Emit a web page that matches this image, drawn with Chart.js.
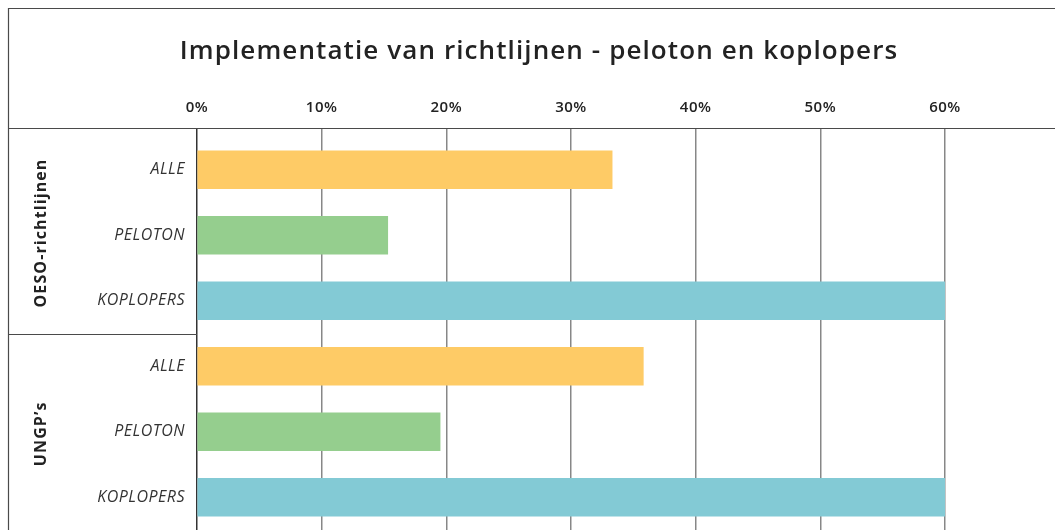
<!DOCTYPE html>
<html>
<head>
<meta charset="utf-8">
<script src="https://cdn.jsdelivr.net/npm/chart.js@4.4.1/dist/chart.umd.min.js"></script>
<style>
  html, body { margin: 0; padding: 0; background: #fff; }
  #wrap { width: 1055px; height: 530px; }
</style>
</head>
<body>
<div id="wrap"><canvas id="chart" width="1055" height="530"></canvas></div>
<script>
const title = "Implementatie van richtlijnen - peloton en koplopers";
const categories = ["ALLE", "PELOTON", "KOPLOPERS", "ALLE", "PELOTON", "KOPLOPERS"];
const groups = ["OESO-richtlijnen", "UNGP\u2019s"];
const groupSizes = [3, 3];
const values = [33.3, 15.3, 60, 35.8, 19.5, 60];
const xTicks = [0, 10, 20, 30, 40, 50, 60];

const barColors = ["#fecb66", "#95ce8e", "#83cad5", "#fecb66", "#95ce8e", "#83cad5"];
const lineColor = "#4a4a4a";
const fontFamily = "'Open Sans', 'Noto Sans', sans-serif";

const frame = {
  id: "frame",
  beforeDraw(chart) {
    // wider tracking for the axis labels, like the original typeface
    chart.ctx.letterSpacing = "0.5px";
  },
  afterDraw(chart) {
    const ctx = chart.ctx;
    const y = chart.scales.y;
    const area = chart.chartArea;
    const headerY = 128.5;

    ctx.save();
    ctx.strokeStyle = lineColor;
    ctx.lineWidth = 1.2;

    // outer frame: top and left
    ctx.beginPath();
    ctx.moveTo(8.5, chart.height);
    ctx.lineTo(8.5, 8.5);
    ctx.lineTo(chart.width, 8.5);
    ctx.stroke();

    // header rule
    ctx.beginPath();
    ctx.moveTo(8.5, headerY);
    ctx.lineTo(chart.width, headerY);
    ctx.stroke();

    // title
    ctx.fillStyle = "#222";
    ctx.font = "600 26px " + fontFamily;
    ctx.textAlign = "center";
    ctx.textBaseline = "middle";
    ctx.letterSpacing = "1.1px";
    ctx.fillText(title, 539, 52);

    // group labels and separators
    let start = 0;
    groups.forEach((name, i) => {
      const end = start + groupSizes[i] - 1;
      const top = i === 0 ? headerY : (y.getPixelForValue(start - 1) + y.getPixelForValue(start)) / 2;
      const bottom = i === groups.length - 1 ? chart.height : (y.getPixelForValue(end) + y.getPixelForValue(end + 1)) / 2;

      if (i < groups.length - 1) {
        ctx.beginPath();
        ctx.moveTo(8.5, Math.round(bottom) + 0.5);
        ctx.lineTo(area.left, Math.round(bottom) + 0.5);
        ctx.stroke();
      }

      ctx.save();
      ctx.translate(41, (top + bottom) / 2 + 2);
      ctx.rotate(-Math.PI / 2);
      ctx.font = "bold 16px " + fontFamily;
      ctx.fillStyle = "#222";
      ctx.textAlign = "center";
      ctx.textBaseline = "middle";
      ctx.letterSpacing = "1.1px";
      ctx.fillText(name, 0, 0);
      ctx.restore();

      start = end + 1;
    });

    ctx.restore();
  },
};

new Chart(document.getElementById("chart"), {
  type: "bar",
  data: {
    labels: categories,
    datasets: [
      {
        data: values,
        backgroundColor: barColors,
        borderWidth: 0,
        barThickness: 38,
      },
    ],
  },
  options: {
    indexAxis: "y",
    responsive: false,
    animation: false,
    layout: {
      padding: { left: 8, right: 110, top: 0, bottom: 0 },
    },
    plugins: {
      legend: { display: false },
      tooltip: { enabled: false },
    },
    scales: {
      x: {
        position: "top",
        min: 0,
        max: 60,
        z: 1,
        afterBuildTicks(scale) {
          scale.ticks = xTicks.map((v) => ({ value: v }));
        },
        afterFit(scale) {
          scale.height = 137;
        },
        ticks: {
          padding: 11,
          color: "#222",
          font: { family: fontFamily, size: 15, weight: "600" },
          callback: (v) => v + "%",
        },
        border: { display: false },
        grid: {
          drawTicks: true,
          tickLength: 9,
          lineWidth: 1.5,
          color: (ctx) => (ctx.tick && ctx.tick.value === 0 ? "#333" : "rgba(70,70,70,0.65)"),
        },
      },
      y: {
        afterFit(scale) {
          scale.width = 189;
          scale.paddingTop = 0;
          scale.paddingBottom = 0;
        },
        ticks: {
          padding: 12,
          color: "#333",
          font: { family: fontFamily, size: 16, style: "italic", weight: "400" },
        },
        border: { display: false },
        grid: { display: false, drawTicks: false },
      },
    },
  },
  plugins: [frame],
});
</script>
</body>
</html>
